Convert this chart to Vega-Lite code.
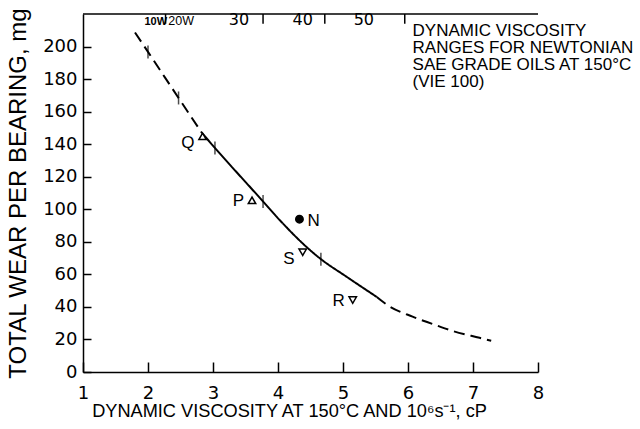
{
  "$schema": "https://vega.github.io/schema/vega-lite/v6.json",
  "width": 455,
  "height": 358,
  "autosize": "none",
  "padding": {"left": 83, "top": 14, "right": 102, "bottom": 57},
  "background": "white",
  "config": {
    "view": {"stroke": null},
    "font": "Liberation Sans",
    "axis": {
      "grid": false,
      "domainColor": "black",
      "domainWidth": 1.5,
      "tickColor": "black",
      "tickWidth": 1.5,
      "labelColor": "black",
      "titleColor": "black",
      "titleFontWeight": "normal",
      "labelFlush": false,
      "labelOverlap": false
    },
    "axisX": {
      "format": "d",
      "tickSize": -10,
      "labelPadding": 22,
      "labelFont": "DejaVu Sans",
      "labelFontSize": 18,
      "titleFontSize": 18.2,
      "titleX": 206,
      "titlePadding": 0
    },
    "axisY": {
      "format": "d",
      "tickSize": -8,
      "labelPadding": 14,
      "labelFont": "DejaVu Sans",
      "labelFontSize": 18,
      "titleFontSize": 24,
      "titlePadding": 12
    }
  },
  "datasets": {
    "curve": [
      {"part": "upper", "style": "dashed", "visc": 1.80, "wear": 208.6},
      {"part": "upper", "style": "dashed", "visc": 2.00, "wear": 196.7},
      {"part": "upper", "style": "dashed", "visc": 2.47, "wear": 168.4},
      {"part": "upper", "style": "dashed", "visc": 2.83, "wear": 146.9},
      {"part": "fit", "style": "solid", "visc": 2.83, "wear": 146.9},
      {"part": "fit", "style": "solid", "visc": 3.03, "wear": 137.7},
      {"part": "fit", "style": "solid", "visc": 3.75, "wear": 105.7},
      {"part": "fit", "style": "solid", "visc": 4.03, "wear": 93.2},
      {"part": "fit", "style": "solid", "visc": 4.44, "wear": 76.8},
      {"part": "fit", "style": "solid", "visc": 4.64, "wear": 70.0},
      {"part": "fit", "style": "solid", "visc": 5.06, "wear": 58.4},
      {"part": "fit", "style": "solid", "visc": 5.52, "wear": 46.1},
      {"part": "lower", "style": "dashed", "visc": 5.52, "wear": 46.1},
      {"part": "lower", "style": "dashed", "visc": 5.67, "wear": 41.5},
      {"part": "lower", "style": "dashed", "visc": 6.07, "wear": 34.0},
      {"part": "lower", "style": "dashed", "visc": 6.38, "wear": 29.5},
      {"part": "lower", "style": "dashed", "visc": 6.68, "wear": 25.3},
      {"part": "lower", "style": "dashed", "visc": 7.10, "wear": 21.0},
      {"part": "lower", "style": "dashed", "visc": 7.28, "wear": 19.2}
    ],
    "curveTicks": [
      {"visc": 2.00, "wear": 196.7},
      {"visc": 2.47, "wear": 168.4},
      {"visc": 3.03, "wear": 137.7},
      {"visc": 3.77, "wear": 104.8},
      {"visc": 4.66, "wear": 69.3}
    ],
    "oils": [
      {"oil": "Q", "kind": "up", "visc": 2.84, "wear": 144.8},
      {"oil": "P", "kind": "up", "visc": 3.60, "wear": 105.5},
      {"oil": "N", "kind": "newtonian", "visc": 4.33, "wear": 93.9},
      {"oil": "S", "kind": "down", "visc": 4.38, "wear": 73.6},
      {"oil": "R", "kind": "down", "visc": 5.15, "wear": 44.2}
    ],
    "grades": [
      {"grade": "10W", "visc": 2.12},
      {"grade": "20W", "visc": 2.51},
      {"grade": "30", "visc": 3.40},
      {"grade": "40", "visc": 4.38},
      {"grade": "50", "visc": 5.32}
    ],
    "gradeBounds": [
      {"visc": 2.27},
      {"visc": 3.77},
      {"visc": 4.72},
      {"visc": 5.95}
    ]
  },
  "layer": [
    {
      "data": {"name": "curve"},
      "mark": {"type": "line", "color": "black", "strokeWidth": 2, "interpolate": "monotone"},
      "encoding": {
        "x": {
          "field": "visc", "type": "quantitative",
          "scale": {"domain": [1, 8], "nice": false, "zero": false},
          "axis": {"orient": "bottom", "values": [1, 2, 3, 4, 5, 6, 7, 8], "title": "DYNAMIC VISCOSITY AT 150°C AND 10⁶s⁻¹, cP"}
        },
        "y": {
          "field": "wear", "type": "quantitative",
          "scale": {"domain": [0, 220], "nice": false, "zero": true},
          "axis": {"orient": "left", "values": [0, 20, 40, 60, 80, 100, 120, 140, 160, 180, 200], "title": "TOTAL WEAR PER BEARING, mg"}
        },
        "detail": {"field": "part"},
        "strokeDash": {
          "field": "style", "type": "nominal",
          "scale": {"domain": ["dashed", "solid"], "range": [[11, 6], [1, 0]]},
          "legend": null
        }
      }
    },
    {
      "data": {"values": [{}]},
      "mark": {"type": "rule", "color": "black", "strokeWidth": 1.5},
      "encoding": {
        "x": {"datum": 1, "type": "quantitative", "axis": {"values": [1, 2, 3, 4, 5, 6, 7, 8]}},
        "x2": {"datum": 8},
        "y": {"datum": 220, "type": "quantitative", "axis": {"values": [0, 20, 40, 60, 80, 100, 120, 140, 160, 180, 200]}}
      }
    },
    {
      "data": {"name": "gradeBounds"},
      "mark": {"type": "rule", "color": "black", "strokeWidth": 1.5},
      "encoding": {
        "x": {"field": "visc", "type": "quantitative", "axis": {"values": [1, 2, 3, 4, 5, 6, 7, 8]}},
        "y": {"datum": 220, "type": "quantitative", "axis": {"values": [0, 20, 40, 60, 80, 100, 120, 140, 160, 180, 200]}},
        "y2": {"datum": 214}
      }
    },
    {
      "data": {"name": "curveTicks"},
      "mark": {"type": "tick", "orient": "vertical", "color": "black", "thickness": 1.5, "size": 13},
      "encoding": {
        "x": {"field": "visc", "type": "quantitative", "axis": {"values": [1, 2, 3, 4, 5, 6, 7, 8]}},
        "y": {"field": "wear", "type": "quantitative", "axis": {"values": [0, 20, 40, 60, 80, 100, 120, 140, 160, 180, 200]}}
      }
    },
    {
      "data": {"name": "oils"},
      "mark": {"type": "point", "filled": true, "stroke": "black", "strokeWidth": 1.5, "size": 55, "opacity": 1},
      "encoding": {
        "x": {"field": "visc", "type": "quantitative", "axis": {"values": [1, 2, 3, 4, 5, 6, 7, 8]}},
        "y": {"field": "wear", "type": "quantitative", "axis": {"values": [0, 20, 40, 60, 80, 100, 120, 140, 160, 180, 200]}},
        "shape": {
          "field": "kind", "type": "nominal",
          "scale": {"domain": ["up", "down", "newtonian"], "range": ["triangle-up", "triangle-down", "circle"]},
          "legend": null
        },
        "fill": {
          "field": "kind", "type": "nominal",
          "scale": {"domain": ["up", "down", "newtonian"], "range": ["white", "white", "black"]},
          "legend": null
        }
      }
    },
    {
      "data": {"name": "oils"},
      "transform": [{"filter": "datum.oil === 'Q' || datum.oil === 'S'"}],
      "mark": {"type": "text", "align": "right", "baseline": "middle", "dx": -8, "dy": 7, "fontSize": 17, "color": "black"},
      "encoding": {
        "x": {"field": "visc", "type": "quantitative", "axis": {"values": [1, 2, 3, 4, 5, 6, 7, 8]}},
        "y": {"field": "wear", "type": "quantitative", "axis": {"values": [0, 20, 40, 60, 80, 100, 120, 140, 160, 180, 200]}},
        "text": {"field": "oil"}
      }
    },
    {
      "data": {"name": "oils"},
      "transform": [{"filter": "datum.oil === 'P' || datum.oil === 'R'"}],
      "mark": {"type": "text", "align": "right", "baseline": "middle", "dx": -8, "dy": 1, "fontSize": 17, "color": "black"},
      "encoding": {
        "x": {"field": "visc", "type": "quantitative", "axis": {"values": [1, 2, 3, 4, 5, 6, 7, 8]}},
        "y": {"field": "wear", "type": "quantitative", "axis": {"values": [0, 20, 40, 60, 80, 100, 120, 140, 160, 180, 200]}},
        "text": {"field": "oil"}
      }
    },
    {
      "data": {"name": "oils"},
      "transform": [{"filter": "datum.oil === 'N'"}],
      "mark": {"type": "text", "align": "left", "baseline": "middle", "dx": 8, "dy": 2, "fontSize": 17, "color": "black"},
      "encoding": {
        "x": {"field": "visc", "type": "quantitative", "axis": {"values": [1, 2, 3, 4, 5, 6, 7, 8]}},
        "y": {"field": "wear", "type": "quantitative", "axis": {"values": [0, 20, 40, 60, 80, 100, 120, 140, 160, 180, 200]}},
        "text": {"field": "oil"}
      }
    },
    {
      "data": {"name": "grades"},
      "transform": [{"filter": "datum.grade === '10W'"}],
      "mark": {"type": "text", "align": "center", "baseline": "alphabetic", "fontSize": 11, "fontWeight": "bold", "color": "black"},
      "encoding": {
        "x": {"field": "visc", "type": "quantitative", "axis": {"values": [1, 2, 3, 4, 5, 6, 7, 8]}},
        "y": {"datum": 213.3, "type": "quantitative", "axis": {"values": [0, 20, 40, 60, 80, 100, 120, 140, 160, 180, 200]}},
        "text": {"field": "grade"}
      }
    },
    {
      "data": {"name": "grades"},
      "transform": [{"filter": "datum.grade === '20W'"}],
      "mark": {"type": "text", "align": "center", "baseline": "alphabetic", "fontSize": 12.5, "color": "black"},
      "encoding": {
        "x": {"field": "visc", "type": "quantitative", "axis": {"values": [1, 2, 3, 4, 5, 6, 7, 8]}},
        "y": {"datum": 213.3, "type": "quantitative", "axis": {"values": [0, 20, 40, 60, 80, 100, 120, 140, 160, 180, 200]}},
        "text": {"field": "grade"}
      }
    },
    {
      "data": {"name": "grades"},
      "transform": [{"filter": "datum.grade !== '10W' && datum.grade !== '20W'"}],
      "mark": {"type": "text", "align": "center", "baseline": "alphabetic", "fontSize": 16, "font": "DejaVu Sans", "color": "black"},
      "encoding": {
        "x": {"field": "visc", "type": "quantitative", "axis": {"values": [1, 2, 3, 4, 5, 6, 7, 8]}},
        "y": {"datum": 213.3, "type": "quantitative", "axis": {"values": [0, 20, 40, 60, 80, 100, 120, 140, 160, 180, 200]}},
        "text": {"field": "grade"}
      }
    },
    {
      "data": {"values": [{}]},
      "mark": {"type": "text", "align": "left", "baseline": "alphabetic", "fontSize": 17, "lineHeight": 17, "color": "black"},
      "encoding": {
        "x": {"datum": 6.07, "type": "quantitative", "axis": {"values": [1, 2, 3, 4, 5, 6, 7, 8]}},
        "y": {"datum": 206.5, "type": "quantitative", "axis": {"values": [0, 20, 40, 60, 80, 100, 120, 140, 160, 180, 200]}},
        "text": {"value": ["DYNAMIC VISCOSITY", "RANGES FOR NEWTONIAN", "SAE GRADE OILS AT 150°C", "(VIE 100)"]}
      }
    }
  ]
}
